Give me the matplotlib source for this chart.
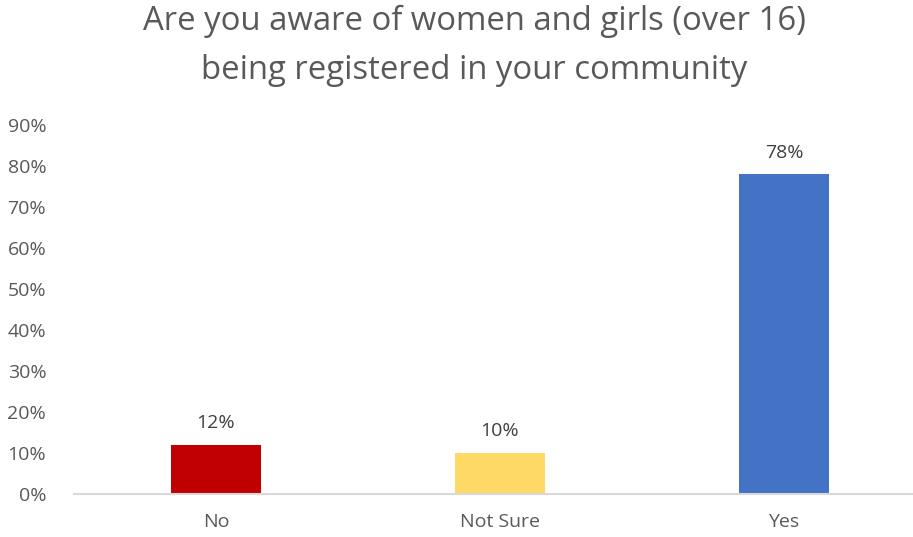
import numpy as np
import matplotlib.pyplot as plt
from matplotlib.ticker import PercentFormatter

plt.rcParams['font.family'] = ['Open Sans', 'DejaVu Sans']

categories = ['No', 'Not Sure', 'Yes']
values = [12, 10, 78]
colors = ['#C00000', '#FFD966', '#4472C4']
yticks = np.arange(0, 91, 10)

fig = plt.figure(figsize=(9.13, 5.37), dpi=100)
# axes runs a bit past the right edge, like the original export
ax = fig.add_axes([74/913, 1-494/537, (926-74)/913, (494-125)/537])

x = np.arange(len(categories))
bars = ax.bar(x, values, width=0.315, color=colors, zorder=2)
for b, v in zip(bars, values):
    ax.annotate(f'{v}%', (b.get_x() + b.get_width()/2, v), xytext=(0, 9),
                textcoords='offset points', ha='center', va='bottom',
                fontsize=14, color='#404040')

ax.set_xlim(-0.5, 2.5)
ax.set_ylim(0, 90)
ax.set_yticks(yticks)
ax.yaxis.set_major_formatter(PercentFormatter(decimals=0))
ax.set_xticks(x, categories)
ax.tick_params(length=0, labelsize=14, labelcolor='#595959')
ax.tick_params(axis='y', pad=20)
ax.tick_params(axis='x', pad=14)
for s in ['top', 'right', 'left']:
    ax.spines[s].set_visible(False)
ax.spines['bottom'].set_color('#D9D9D9')
ax.spines['bottom'].set_linewidth(1.5)

fig.text(474/913, 1-46/537, 'Are you aware of women and girls (over 16)\nbeing registered in your community',
         ha='center', va='center', fontsize=23.7, color='#595959', linespacing=1.62)

fig.savefig('out.png', dpi=100)
